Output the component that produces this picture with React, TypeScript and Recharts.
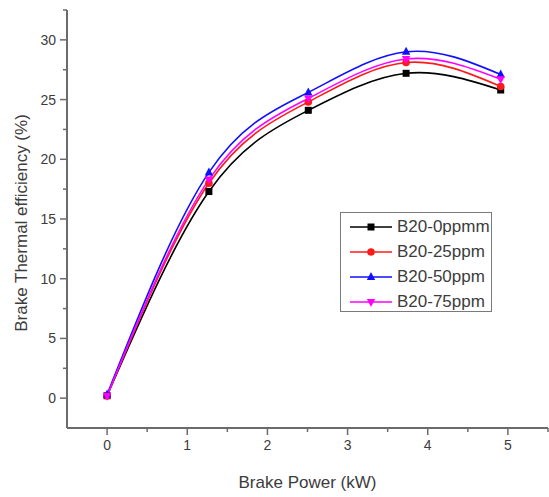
import React from 'react';
import { LineChart, Line, XAxis, YAxis, Legend } from 'recharts';

const brakePower = [0, 1.27, 2.51, 3.73, 4.91];
const b20_0ppmm = [0.2, 17.3, 24.1, 27.2, 25.8];
const b20_25ppm = [0.2, 18.0, 24.8, 28.1, 26.1];
const b20_50ppm = [0.3, 18.9, 25.6, 29.0, 27.1];
const b20_75ppm = [0.2, 18.3, 25.1, 28.4, 26.7];
const seriesNames = ['B20-0ppmm', 'B20-25ppm', 'B20-50ppm', 'B20-75ppm'];
const xMajorTicks = [0, 1, 2, 3, 4, 5];
const xMinorTicks = [0.5, 1.5, 2.5, 3.5, 4.5, 5.5];
const yMajorTicks = [0, 5, 10, 15, 20, 25, 30];
const yMinorTicks = [2.5, 7.5, 12.5, 17.5, 22.5, 27.5, 32.5];

const data = brakePower.map((x, i) => ({
  x,
  s0: b20_0ppmm[i],
  s25: b20_25ppm[i],
  s50: b20_50ppm[i],
  s75: b20_75ppm[i],
}));

const AXIS_COLOR = '#6b6b6b';
const TEXT_COLOR = '#3c3c3c';
const FONT = '"Liberation Sans", Arial, sans-serif';

type MarkerKind = 'square' | 'circle' | 'triUp' | 'triDown';

const series: { key: string; name: string; color: string; marker: MarkerKind }[] = [
  { key: 's0', name: seriesNames[0], color: '#000000', marker: 'square' },
  { key: 's25', name: seriesNames[1], color: '#ff1a1a', marker: 'circle' },
  { key: 's50', name: seriesNames[2], color: '#1010ff', marker: 'triUp' },
  { key: 's75', name: seriesNames[3], color: '#ff00ff', marker: 'triDown' },
];

function Marker({ cx, cy, kind, color }: { cx: number; cy: number; kind: MarkerKind; color: string }) {
  if (cx == null || cy == null || isNaN(cx) || isNaN(cy)) return null;
  if (kind === 'square') return <rect x={cx - 3.5} y={cy - 3.5} width={7} height={7} fill={color} />;
  if (kind === 'circle') return <circle cx={cx} cy={cy} r={3.8} fill={color} />;
  if (kind === 'triUp')
    return <polygon points={`${cx},${cy - 5} ${cx - 4.2},${cy + 3} ${cx + 4.2},${cy + 3}`} fill={color} />;
  return <polygon points={`${cx},${cy + 5} ${cx - 4.2},${cy - 3} ${cx + 4.2},${cy - 3}`} fill={color} />;
}

function XTick(props: any) {
  const { x, y, payload } = props;
  const v = payload.value as number;
  const major = Number.isInteger(v);
  return (
    <g>
      <line x1={x} x2={x} y1={y} y2={y + (major ? 7 : 4)} stroke={AXIS_COLOR} strokeWidth={1.5} />
      {major && (
        <text x={x} y={y + 12} dy="0.72em" textAnchor="middle" fill={TEXT_COLOR} fontSize={14} fontFamily={FONT}>
          {v}
        </text>
      )}
    </g>
  );
}

function YTick(props: any) {
  const { x, y, payload } = props;
  const v = payload.value as number;
  const major = Number.isInteger(v);
  return (
    <g>
      <line x1={x} x2={x - (major ? 7 : 4)} y1={y} y2={y} stroke={AXIS_COLOR} strokeWidth={1.5} />
      {major && (
        <text x={x - 11} y={y} dy="0.36em" textAnchor="end" fill={TEXT_COLOR} fontSize={14} fontFamily={FONT}>
          {v}
        </text>
      )}
    </g>
  );
}

function LegendBox() {
  return (
    <div
      style={{
        width: 152,
        height: 100,
        border: '1px solid #7a7a7a',
        background: '#fff',
        boxSizing: 'border-box',
        paddingTop: 1,
        fontFamily: FONT,
      }}
    >
      {series.map((s) => (
        <div key={s.key} style={{ height: 25, display: 'flex', alignItems: 'center' }}>
          <svg width={52} height={14} style={{ flex: 'none' }}>
            <line x1={9} x2={51} y1={7} y2={7} stroke={s.color} strokeWidth={1.6} />
            <Marker cx={30} cy={7} kind={s.marker} color={s.color} />
          </svg>
          <span style={{ fontSize: 17, color: TEXT_COLOR, marginLeft: 4, whiteSpace: 'nowrap' }}>{s.name}</span>
        </div>
      ))}
    </div>
  );
}

export default function App() {
  return (
    <div style={{ position: 'absolute', left: 0, top: 0, fontFamily: FONT }}>
      <LineChart width={549} height={497} data={data} margin={{ top: 10, right: 1, bottom: 0, left: 0 }}>
        <XAxis
          dataKey="x"
          type="number"
          domain={[-0.5, 5.5]}
          ticks={[...xMajorTicks, ...xMinorTicks].sort((a, b) => a - b)}
          interval={0}
          allowDataOverflow
          height={69}
          tickLine={false}
          tickSize={0}
          tickMargin={0}
          tick={<XTick />}
          axisLine={{ stroke: AXIS_COLOR, strokeWidth: 2 }}
          label={{
            content: (p: any) => {
              const vb = p.viewBox || { x: 67, y: 428, width: 481, height: 69 };
              return (
                <text
                  x={vb.x + vb.width / 2}
                  y={vb.y + 60}
                  textAnchor="middle"
                  fill={TEXT_COLOR}
                  fontSize={17}
                  fontFamily={FONT}
                >
                  Brake Power (kW)
                </text>
              );
            },
          }}
        />
        <YAxis
          type="number"
          domain={[-2.5, 32.5]}
          ticks={[...yMajorTicks, ...yMinorTicks].sort((a, b) => a - b)}
          interval={0}
          allowDataOverflow
          width={67}
          tickLine={false}
          tickSize={0}
          tickMargin={0}
          tick={<YTick />}
          axisLine={{ stroke: AXIS_COLOR, strokeWidth: 2 }}
          label={{
            content: (p: any) => {
              const vb = p.viewBox || { x: 0, y: 10, width: 67, height: 418 };
              const cx = 21;
              const cy = vb.y + vb.height / 2 + 4;
              return (
                <text
                  x={cx}
                  y={cy}
                  transform={`rotate(-90 ${cx} ${cy})`}
                  textAnchor="middle"
                  dominantBaseline="central"
                  fill={TEXT_COLOR}
                  fontSize={17}
                  fontFamily={FONT}
                >
                  Brake Thermal efficiency (%)
                </text>
              );
            },
          }}
        />
        <Legend
          layout="vertical"
          align="center"
          verticalAlign="middle"
          wrapperStyle={{ left: 340, top: 212, width: 152, height: 100 }}
          content={() => <LegendBox />}
        />
        {series.map((s) => (
          <Line
            key={s.key}
            dataKey={s.key}
            name={s.name}
            type="natural"
            stroke={s.color}
            strokeWidth={1.6}
            isAnimationActive={false}
            dot={(p: any) => <Marker key={`${s.key}-${p.index}`} cx={p.cx} cy={p.cy} kind={s.marker} color={s.color} />}
            activeDot={false}
          />
        ))}
      </LineChart>
    </div>
  );
}
